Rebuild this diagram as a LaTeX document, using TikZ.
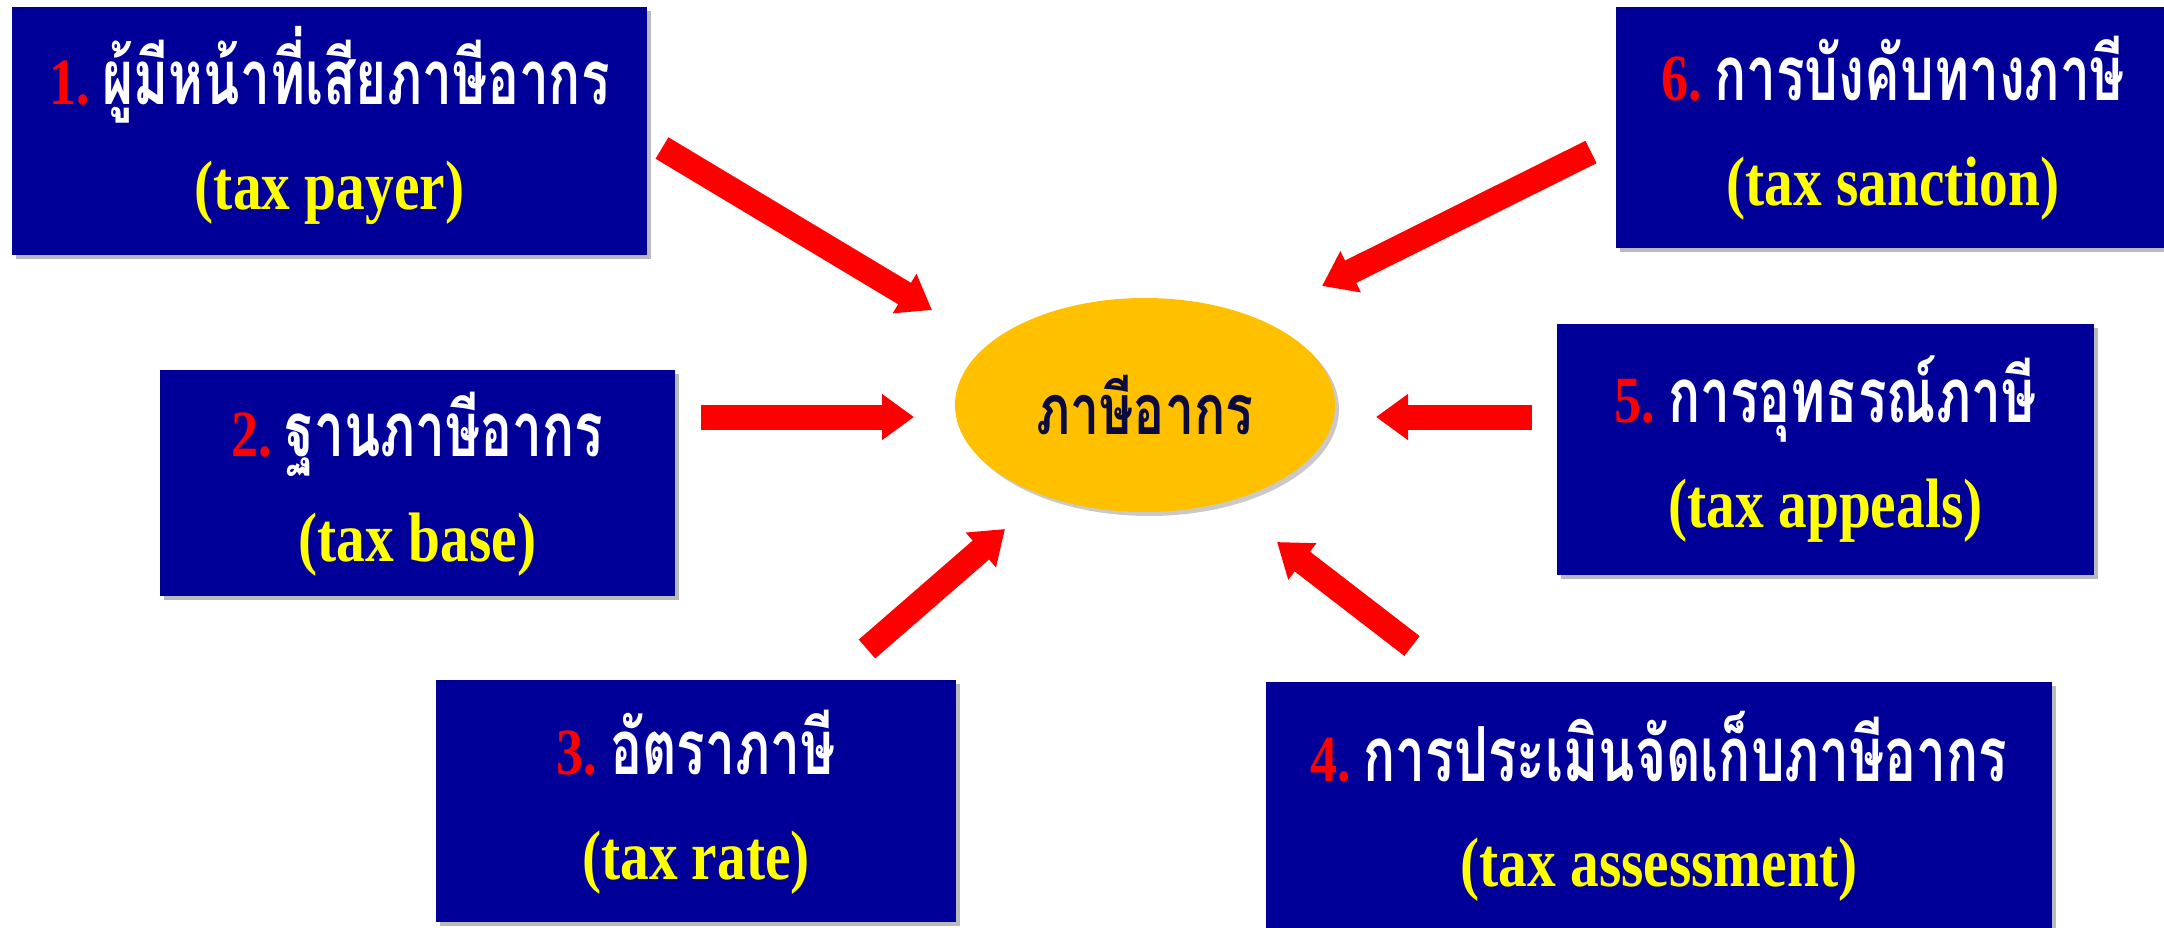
\documentclass[tikz,border=0pt]{standalone}
\usepackage{fontspec}
\setmainfont{Liberation Serif}
\newfontfamily\thaifont[Script=Thai, FakeStretch=0.70, BoldFont={Loma Bold}]{Loma}
\newfontfamily\hubfont[Script=Thai, FakeStretch=0.74, BoldFont={Loma Bold}]{Loma}
\newfontfamily\latinfont[FakeStretch=0.82]{Liberation Serif}
\usetikzlibrary{arrows.meta,shadows,shapes.geometric}
\definecolor{boxblue}{HTML}{000099}
\definecolor{ellfill}{HTML}{FFC000}
\definecolor{navy}{HTML}{0A0A3C}
\definecolor{arrred}{HTML}{FF0000}
\definecolor{ylw}{HTML}{FFFF00}
\newcommand\numlab[1]{{\latinfont\fontsize{33}{38}\selectfont\color{arrred}#1.}\,}
\begin{document}
\begin{tikzpicture}[x=0.5pt,y=-0.5pt,
  box/.style={fill=boxblue, draw=none, inner sep=0pt, rectangle,
    drop shadow={shadow xshift=2pt, shadow yshift=-2pt, opacity=0.45, fill=black!60}},
  thline/.style={text=white, font=\thaifont\bfseries\fontsize{38}{42}\selectfont, anchor=base, inner sep=0pt},
  enline/.style={text=ylw, font=\latinfont\bfseries\fontsize{35}{40}\selectfont, anchor=base, inner sep=0pt},
  hub/.style={ellipse, fill=ellfill, draw=none, minimum width=190pt, minimum height=107pt, inner sep=0pt,
    text=navy, font=\hubfont\bfseries\fontsize{35}{40}\selectfont,
    drop shadow={shadow xshift=2pt, shadow yshift=-2pt, opacity=0.35, fill=black!60}},
  flow/.style={draw=arrred, line width=12.5pt, -{Triangle[width=22pt,length=16pt]}}
]
\fill[white] (0,0) rectangle (2164,927);
\useasboundingbox (0,0) rectangle (2164,927);

% hub
\node[hub] (hub) at (1145,405) {ภาษีอากร};

% boxes
\node[box, minimum width=317.5pt, minimum height=124pt] (b1) at (329.5,131) {};
\node[box, minimum width=257.5pt, minimum height=113pt] (b2) at (417.5,483) {};
\node[box, minimum width=260pt, minimum height=121pt] (b3) at (696,801) {};
\node[box, minimum width=393pt, minimum height=126pt] (b4) at (1659,808) {};
\node[box, minimum width=268.5pt, minimum height=125.5pt] (b5) at (1825.5,449.5) {};
\node[box, minimum width=277pt, minimum height=120.5pt] (b6) at (1893,127.5) {};

% texts
\node[thline] (t1) at ([yshift=13.5pt]b1.center) {\numlab{1}ผู้มีหน้าที่เสียภาษีอากร};
\node[enline] (e1) at ([yshift=-39pt]b1.center) {(tax payer)};
\node[thline] (t2) at ([yshift=13.5pt]b2.center) {\numlab{2}ฐานภาษีอากร};
\node[enline] (e2) at ([yshift=-39pt]b2.center) {(tax base)};
\node[thline] (t3) at ([yshift=13.5pt]b3.center) {\numlab{3}อัตราภาษี};
\node[enline] (e3) at ([yshift=-39pt]b3.center) {(tax rate)};
\node[thline] (t4) at ([yshift=13.5pt]b4.center) {\numlab{4}การประเมินจัดเก็บภาษีอากร};
\node[enline] (e4) at ([yshift=-39pt]b4.center) {(tax assessment)};
\node[thline] (t5) at ([yshift=13.5pt]b5.center) {\numlab{5}การอุทธรณ์ภาษี};
\node[enline] (e5) at ([yshift=-39pt]b5.center) {(tax appeals)};
\node[thline] (t6) at ([yshift=13.5pt]b6.center) {\numlab{6}การบังคับทางภาษี};
\node[enline] (e6) at ([yshift=-39pt]b6.center) {(tax sanction)};

% arrow end points
\coordinate (a1s) at (662,148);  \coordinate (a1e) at (932,310);
\coordinate (a2s) at (701,417);  \coordinate (a2e) at (914,417);
\coordinate (a3s) at (867,649);  \coordinate (a3e) at (1005,529);
\coordinate (a4s) at (1412,646); \coordinate (a4e) at (1277,542);
\coordinate (a5s) at (1532,417); \coordinate (a5e) at (1376,417);
\coordinate (a6s) at (1591,152); \coordinate (a6e) at (1322,286);

\draw[flow] (a1s) -- (a1e);
\draw[flow] (a2s) -- (a2e);
\draw[flow] (a3s) -- (a3e);
\draw[flow] (a4s) -- (a4e);
\draw[flow] (a5s) -- (a5e);
\draw[flow] (a6s) -- (a6e);
\end{tikzpicture}
\end{document}
